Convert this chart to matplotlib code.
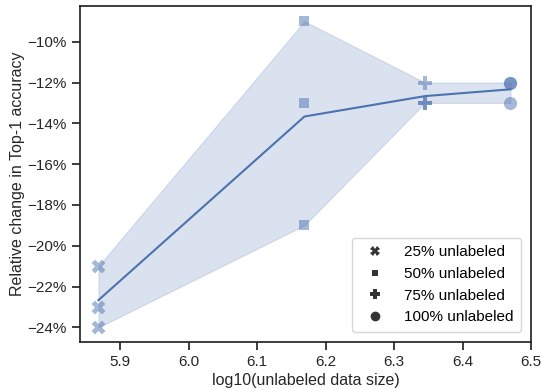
import numpy as np
import matplotlib
matplotlib.use("Agg")
import matplotlib.pyplot as plt
from matplotlib.lines import Line2D

# Data
x_vals = [5.868, 6.169, 6.345, 6.470]
series_labels = ["25% unlabeled", "50% unlabeled", "75% unlabeled", "100% unlabeled"]
y_runs = [
    [-21.0, -23.0, -24.0],
    [-9.0, -13.0, -19.0],
    [-12.0, -13.0, -13.0],
    [-12.0, -12.0, -13.0],
]
markers = ["X", "s", "P", "o"]
marker_sizes = [100, 45, 90, 90]
ytick_vals = [-24, -22, -20, -18, -16, -14, -12, -10]
xtick_vals = [5.9, 6.0, 6.1, 6.2, 6.3, 6.4, 6.5]

color = "#4c72b0"
plt.rcParams["font.family"] = ["Liberation Sans", "DejaVu Sans"]

fig = plt.figure(figsize=(5.41, 3.90), dpi=100)
ax = fig.add_axes([80/541, 1 - 342/390, (531-80)/541, (342-6)/390])

means = [np.mean(r) for r in y_runs]
lows = [np.min(r) for r in y_runs]
highs = [np.max(r) for r in y_runs]

ax.fill_between(x_vals, lows, highs, facecolor=color, alpha=0.2,
                edgecolor=color, linewidth=0.8, zorder=1)
ax.plot(x_vals, means, color=color, lw=1.5, zorder=2)

for xv, ys, m, s in zip(x_vals, y_runs, markers, marker_sizes):
    ax.scatter([xv]*len(ys), ys, marker=m, s=s, color=color, alpha=0.5,
               linewidths=0, zorder=3)

ax.set_yticks(ytick_vals)
ax.set_yticklabels([f"\u2212{abs(v)}%" for v in ytick_vals])
ax.set_xticks(xtick_vals)
ax.set_xticklabels([f"{v:.1f}" for v in xtick_vals])
ax.set_xlim(5.841, 6.50)
ax.set_ylim(-24.72, -8.25)

for sp in ax.spines.values():
    sp.set_color("#262626")
    sp.set_linewidth(1.25)
ax.tick_params(axis="both", direction="out", length=6, width=1.25,
               color="#262626", labelsize=11, labelcolor="#262626")

ax.set_xlabel("log10(unlabeled data size)", fontsize=11.5, color="#262626", labelpad=3)
ax.set_ylabel("Relative change in Top-1 accuracy", fontsize=11.5, color="#262626", labelpad=1.5)

handles = [Line2D([], [], linestyle="none", marker=m, color="#333333",
                  markersize=ms, markeredgewidth=0)
           for m, ms in zip(markers, [6.5, 5, 6.5, 7])]
leg = ax.legend(handles, series_labels, loc="lower right", fontsize=11,
                frameon=True, handletextpad=0.9, borderpad=0.5,
                labelspacing=0.5, bbox_to_anchor=(0.995, 0.007))
leg.get_frame().set_edgecolor("#cccccc")

fig.savefig("out.png", dpi=100)
